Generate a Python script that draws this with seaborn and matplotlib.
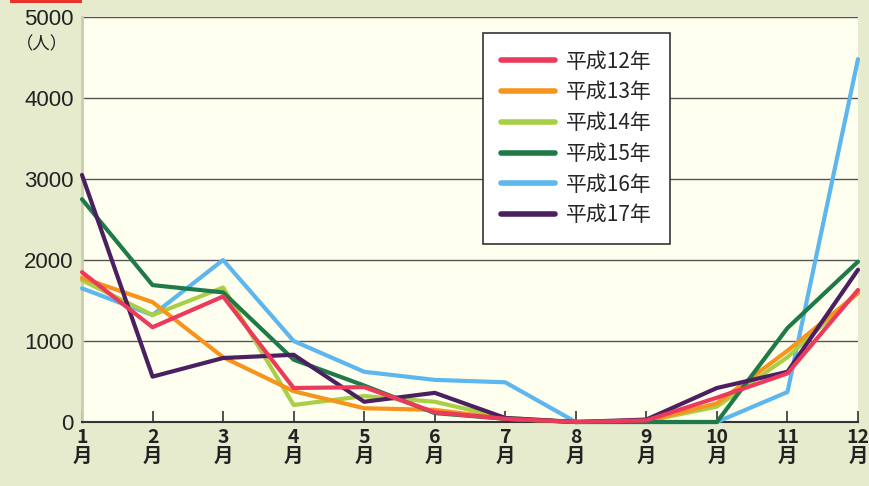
import matplotlib
matplotlib.use("Agg")
import matplotlib.pyplot as plt
import seaborn as sns
import pandas as pd
from matplotlib.patches import Rectangle

months = list(range(1, 13))
month_labels = [f"{m}\n月" for m in months]
series_names = ["平成12年", "平成13年", "平成14年", "平成15年", "平成16年", "平成17年"]
h12 = [1850, 1170, 1550, 420, 430, 120, 40, 0, 20, 300, 600, 1630]
h13 = [1780, 1480, 800, 380, 170, 150, 40, 0, 10, 230, 880, 1590]
h14 = [1750, 1320, 1660, 210, 320, 250, 50, 0, 10, 190, 800, 1600]
h15 = [2750, 1690, 1600, 770, 450, 110, 40, 0, 0, 0, 1160, 1980]
h16 = [1650, 1320, 2000, 1000, 620, 520, 490, 0, 0, 0, 370, 4480]
h17 = [3050, 560, 790, 830, 250, 360, 50, 0, 30, 420, 620, 1880]
y_ticks = [0, 1000, 2000, 3000, 4000, 5000]

colors = ["#EC3A5A", "#F7941D", "#A9CF46", "#1F7A48", "#5DB6EE", "#4B2060"]
zorders = [8, 5, 4, 6, 3, 7]

sns.set_theme(style="white")
plt.rcParams['font.family'] = ['Liberation Sans', 'Noto Sans CJK JP', 'DejaVu Sans']

rows = []
for name, vals in zip(series_names, [h12, h13, h14, h15, h16, h17]):
    for m, v in zip(months, vals):
        rows.append({"month": m, "value": v, "year": name})
df = pd.DataFrame(rows)

fig = plt.figure(figsize=(8.7, 4.86), dpi=100)
fig.patch.set_facecolor("#E5EBCC")
ax = fig.add_axes([82/870, (486-422)/486, (858-82)/870, (422-17)/486])
ax.set_facecolor("#FFFFF0")

for name, col, z in zip(series_names, colors, zorders):
    sub = df[df["year"] == name]
    sns.lineplot(data=sub, x="month", y="value", ax=ax, color=col, linewidth=3.0,
                 label=name, zorder=z, clip_on=False, legend=False,
                 solid_capstyle="round", solid_joinstyle="round")

ax.set_xlim(1, 12)
ax.set_ylim(0, 5000)
ax.set_xlabel("")
ax.set_ylabel("")

for y in y_ticks[1:]:
    ax.axhline(y, color="#555555", linewidth=1.0, zorder=1)

ax.set_yticks(y_ticks)
ax.set_yticklabels([str(t) for t in y_ticks], fontsize=16, color="#222222")
ax.set_xticks(months)
ax.set_xticklabels(month_labels, fontsize=14, fontweight="bold", color="#222222",
                   linespacing=1.0, family=['Noto Sans CJK JP', 'DejaVu Sans'])
ax.tick_params(axis="x", direction="in", length=8, width=1.2, color="#333333", pad=4, bottom=True)
ax.tick_params(axis="y", length=0, pad=6)

for s in ["top", "right"]:
    ax.spines[s].set_visible(False)
ax.spines["left"].set_color("#C9CFA8")
ax.spines["left"].set_linewidth(2)
ax.spines["bottom"].set_color("#333333")
ax.spines["bottom"].set_linewidth(1.5)

fig.text(68/870, 1-44/486, "（人）", ha="right", va="center", fontsize=12.5, color="#222222",
         family=['Noto Sans CJK JP', 'DejaVu Sans'])

handles = [plt.Line2D([0], [0], color=c, linewidth=4, solid_capstyle="round") for c in colors]
leg = ax.legend(handles, series_names, loc="upper left",
                bbox_to_anchor=((483-82)/776, (422-33)/405), fontsize=15,
                frameon=True, fancybox=False, framealpha=1, edgecolor="#333333",
                handlelength=2.6, handletextpad=0.55, labelspacing=0.42,
                borderpad=0.85, borderaxespad=0)
leg.get_frame().set_linewidth(1.2)
leg.get_frame().set_facecolor("white")
leg.set_zorder(20)
for t in leg.get_texts():
    t.set_family(['Noto Sans CJK JP', 'DejaVu Sans'])

fig.patches.append(Rectangle((10/870, 1-3/486), 72/870, 3/486, transform=fig.transFigure,
                             facecolor="#E8322A", edgecolor="none"))

fig.savefig("out.png", dpi=100, facecolor=fig.get_facecolor())
